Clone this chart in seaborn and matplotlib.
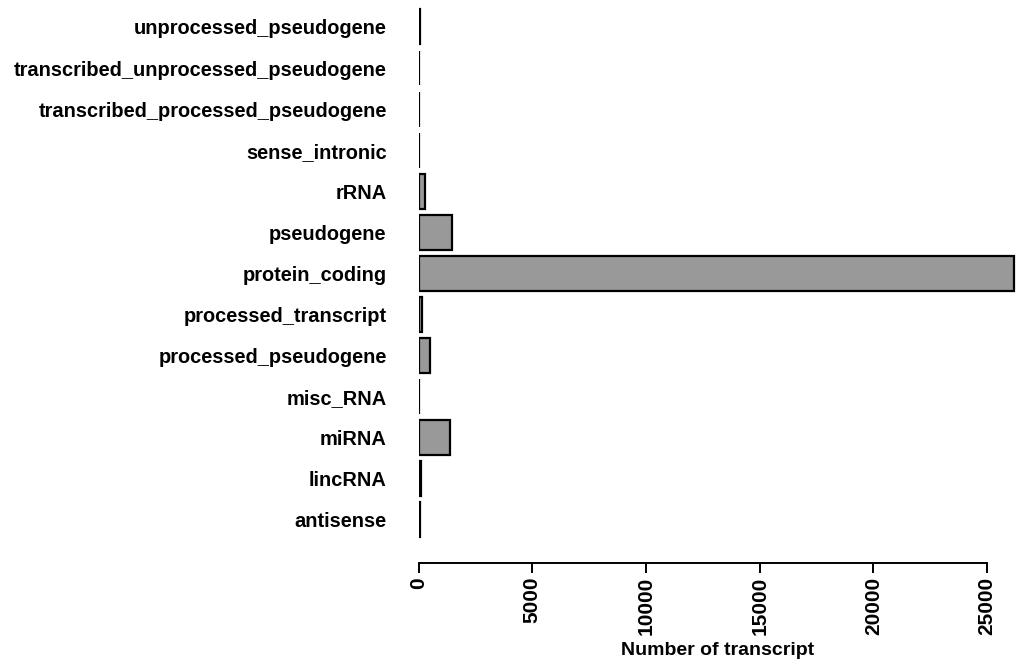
import seaborn as sns
import matplotlib.pyplot as plt
import pandas as pd

# transcript biotypes, listed top to bottom as in the chart
biotypes = ["unprocessed_pseudogene", "transcribed_unprocessed_pseudogene",
            "transcribed_processed_pseudogene", "sense_intronic", "rRNA",
            "pseudogene", "protein_coding", "processed_transcript",
            "processed_pseudogene", "misc_RNA", "miRNA", "lincRNA", "antisense"]
counts = [80, 20, 30, 25, 300, 1460, 26200, 130, 510, 15, 1380, 90, 40]
xticks = [0, 5000, 10000, 15000, 20000, 25000]

df = pd.DataFrame({"biotype": biotypes, "count": counts})

sns.set_style("white")
plt.rcParams["font.family"] = ["Liberation Sans", "DejaVu Sans"]
plt.rcParams["font.weight"] = "bold"
plt.rcParams["text.color"] = "black"
plt.rcParams["xtick.color"] = "black"
plt.rcParams["ytick.color"] = "black"
plt.rcParams["axes.labelcolor"] = "black"

fig = plt.figure(figsize=(10.21, 6.62), dpi=100)
ax = fig.add_axes([0.41, 0.1495, 0.5857, 0.8430])

sns.barplot(data=df, x="count", y="biotype", order=biotypes, color="#999999",
            saturation=1, width=0.85, edgecolor="black", linewidth=1.6, ax=ax)

ax.set_xlim(0, 26300)
ax.set_ylim(13.05, -0.535)
for s in ["top", "right", "left"]:
    ax.spines[s].set_visible(False)
ax.spines["bottom"].set_bounds(0, 25000)
ax.spines["bottom"].set_linewidth(1.4)
ax.spines["bottom"].set_color("black")
ax.set_xticks(xticks)
ax.set_xticklabels([str(t) for t in xticks], rotation=90, fontsize=15, fontweight="bold")
ax.tick_params(axis="x", bottom=True, direction="out", length=7, width=1.4, color="black", pad=3)
ax.tick_params(axis="y", left=False, length=0, pad=23, labelsize=14.4)
for lbl in ax.get_yticklabels():
    lbl.set_fontweight("bold")
ax.set_ylabel("")
ax.set_xlabel("Number of transcript", fontsize=14, fontweight="bold", labelpad=5)

fig.savefig("out.png", dpi=100)
